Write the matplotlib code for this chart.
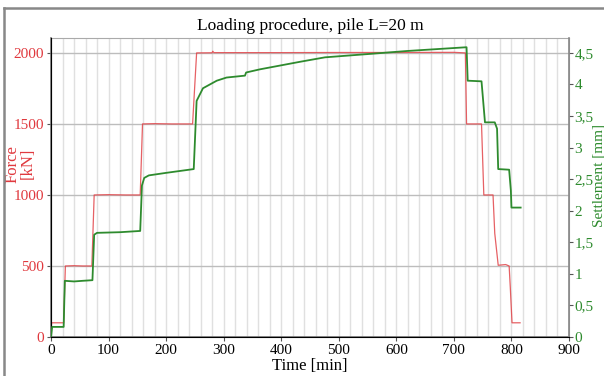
import matplotlib.pyplot as plt
from matplotlib.lines import Line2D
from matplotlib.ticker import MultipleLocator, FuncFormatter

plt.rcParams['font.family'] = ['Liberation Serif', 'DejaVu Serif']

# force record [min, kN]
t_force = [0, 1, 22, 25, 40, 55, 71, 75, 100, 130, 155, 159, 180, 210, 246, 253, 280, 281,
           283, 400, 500, 600, 700, 720, 722, 748, 752, 768, 771, 777, 790, 796, 798, 801, 815]
force = [0, 100, 100, 500, 502, 500, 500, 1000, 1002, 1000, 1000, 1500, 1502, 1500, 1500, 2000,
         2001, 2012, 2002, 2002, 2003, 2003, 2004, 2000, 1500, 1500, 1000, 1000, 730, 505, 510,
         500, 350, 100, 100]

# settlement record [min, mm]
t_settl = [0, 2, 22, 24, 40, 55, 72, 75, 80, 120, 155, 158, 162, 170, 200, 248, 253, 264,
           288, 305, 337, 339, 363, 433, 476, 548, 618, 722, 724, 748, 754, 771, 775, 777,
           796, 799, 800, 816]
settl = [0, 0.16, 0.16, 0.89, 0.88, 0.89, 0.9, 1.62, 1.65, 1.66, 1.68, 2.4, 2.52, 2.56, 2.6,
         2.66, 3.74, 3.94, 4.06, 4.11, 4.14, 4.19, 4.24, 4.36, 4.43, 4.48, 4.53, 4.59, 4.06,
         4.05, 3.4, 3.4, 3.3, 2.66, 2.65, 2.32, 2.05, 2.05]

red = '#e0393e'
green = '#2e8b2e'

fig = plt.figure(figsize=(6.04, 3.76), dpi=100)
ax = fig.add_axes([51 / 604, 1 - 337 / 376, 518 / 604, 299 / 376])
ax2 = ax.twinx()

# outer frame
fig.add_artist(Line2D([4 / 604, 1], [1 - 8 / 376, 1 - 8 / 376], color='#888888', lw=1.8))
fig.add_artist(Line2D([4 / 604, 4 / 604], [0, 1 - 8 / 376], color='#888888', lw=1.8))

ax.plot(t_force, force, color=red, lw=0.9, alpha=0.8, zorder=3)
ax2.plot(t_settl, settl, color=green, lw=1.3, zorder=3)

ax.set_xlim(0, 900)
ax.set_ylim(0, 2105)
ax2.set_ylim(0, 2105 / 2000 * 4.5)

ax.xaxis.set_major_locator(MultipleLocator(100))
ax.xaxis.set_minor_locator(MultipleLocator(20))
ax.yaxis.set_major_locator(MultipleLocator(500))
ax2.yaxis.set_major_locator(MultipleLocator(0.5))
ax2.yaxis.set_major_formatter(FuncFormatter(lambda v, p: f'{v:g}'.replace('.', ',')))

ax.grid(which='minor', axis='x', color='#e0e0e0', lw=1)
ax.grid(which='major', axis='x', color='#e0e0e0', lw=1)
ax.grid(which='major', axis='y', color='#bdbdbd', lw=1)
ax.set_axisbelow(True)
ax.tick_params(axis='x', which='minor', length=0)

ax.tick_params(axis='both', labelsize=11, length=3, width=0.8, color='#555555', pad=2)
ax.tick_params(axis='y', labelcolor=red)
ax2.tick_params(axis='y', labelsize=11, labelcolor=green, length=3, width=0.8,
                color='#555555', pad=1)

for s in ['left', 'bottom']:
    ax.spines[s].set_color('#777777')
    ax.spines[s].set_linewidth(1.2)
for s in ['top', 'right']:
    ax.spines[s].set_color('#aaaaaa')
ax2.spines['right'].set_color('#888888')
ax2.spines['right'].set_linewidth(1.2)
ax2.spines['top'].set_visible(False)

ax.set_title('Loading procedure, pile L=20 m', fontsize=12.5, pad=6)
ax.set_xlabel('Time [min]', fontsize=12, labelpad=1)
ax.set_ylabel('Force\n[kN]', fontsize=12, color=red, linespacing=0.95)
ax.yaxis.set_label_coords(-0.03, 0.58)
ax2.set_ylabel('Settlement [mm]', fontsize=11, color=green)
ax2.yaxis.set_label_coords(1.045, 0.54)

fig.savefig('out.png', dpi=100)
